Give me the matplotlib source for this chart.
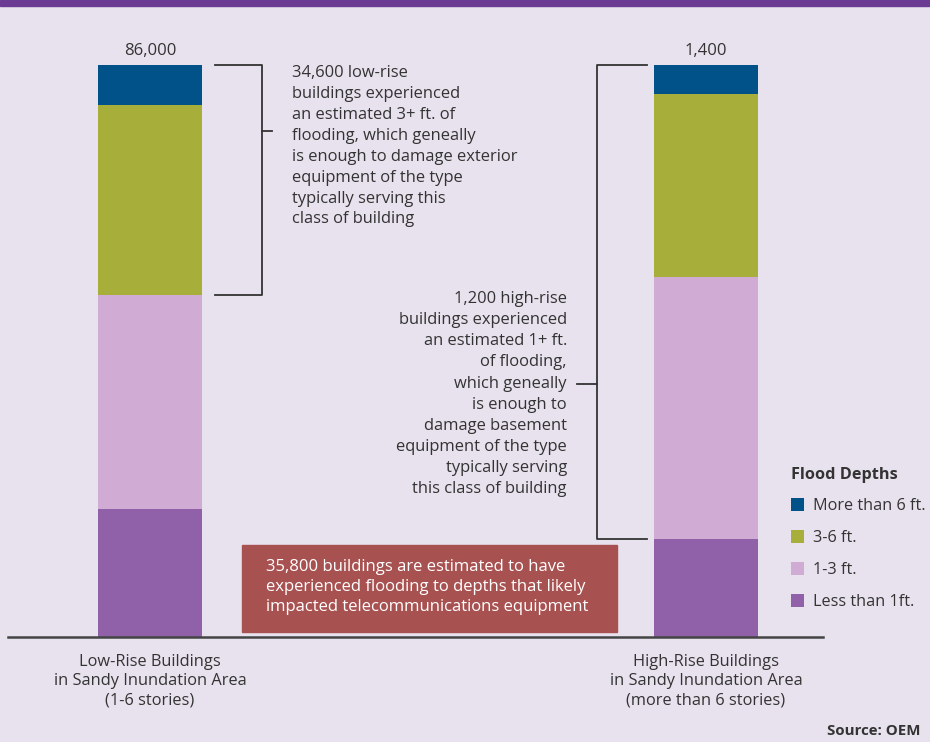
import matplotlib
matplotlib.use("Agg")
import matplotlib.pyplot as plt
import numpy as np

plt.rcParams['font.family'] = ['Open Sans', 'DejaVu Sans']

categories = ["Low-Rise Buildings\nin Sandy Inundation Area\n(1-6 stories)",
              "High-Rise Buildings\nin Sandy Inundation Area\n(more than 6 stories)"]
totals = [86000, 1400]
depth_labels = ["Less than 1ft.", "1-3 ft.", "3-6 ft.", "More than 6 ft."]
# building counts per flood-depth class (bottom to top)
less_1ft = [19200, 240]
ft_1_3 = [32200, 640]
ft_3_6 = [28600, 450]
more_6ft = [6000, 70]
colors = ["#9061A8", "#D0ABD4", "#A8AE3A", "#005288"]

BG = "#E8E2EE"
W, H = 930, 742
fig = plt.figure(figsize=(W / 100, H / 100), dpi=100, facecolor=BG)

def fx(px):
    return px / W

def fy(py):
    return 1 - py / H

# top purple band
fig.patches.append(plt.Rectangle((0, fy(6)), 1, 6 / H, transform=fig.transFigure,
                                 color="#6B3A92", zorder=0))

ax_left, ax_right, ax_bot, ax_top = 8, 823, 637, 65
ax = fig.add_axes([fx(ax_left), fy(ax_bot), fx(ax_right - ax_left), (ax_bot - ax_top) / H])
ax.set_facecolor("none")

c0, c1 = 150, 706
unit = c1 - c0
xmin = -(c0 - ax_left) / unit
xmax = xmin + (ax_right - ax_left) / unit
ax.set_xlim(xmin, xmax)
ax.set_ylim(0, 100)

series = [less_1ft, ft_1_3, ft_3_6, more_6ft]
tot = np.array(totals, dtype=float)
x = np.arange(len(categories))
bw = 104 / unit
bottom = np.zeros(len(categories))
handles = []
cum = []
for vals, col, lab in zip(series, colors, depth_labels):
    pct = np.array(vals) / tot * 100
    b = ax.bar(x, pct, bw, bottom=bottom, color=col, label=lab, linewidth=0)
    handles.append(b)
    bottom = bottom + pct
    cum.append(bottom.copy())

for xi, t in zip(x, totals):
    ax.text(xi, 101.0, f"{t:,}", ha="center", va="bottom", fontsize=12, color="#333333")

for s in ["top", "right", "left"]:
    ax.spines[s].set_visible(False)
ax.spines["bottom"].set_color("#444444")
ax.spines["bottom"].set_linewidth(1.8)
ax.set_yticks([])
ax.set_xticks(x)
ax.set_xticklabels(categories, fontsize=11.8, color="#333333", linespacing=1.3)
ax.tick_params(axis="x", length=0, pad=12)

lc = "#333333"
# low-rise bracket
bx0, bx1, btick = (215 - c0) / unit, (262 - c0) / unit, (272 - c0) / unit
ybot = cum[1][0]
ax.plot([bx0, bx1, bx1, bx0], [100, 100, ybot, ybot], color=lc, lw=1.3, clip_on=False)
ymid = (637 - 131) / 572 * 100
ax.plot([bx1, btick], [ymid, ymid], color=lc, lw=1.3, clip_on=False)
fig.text(fx(292), fy(65),
         "34,600 low-rise\nbuildings experienced\nan estimated 3+ ft. of\nflooding, which geneally\n"
         "is enough to damage exterior\nequipment of the type\ntypically serving this\nclass of building",
         ha="left", va="top", fontsize=11.9, color="#333333", linespacing=1.41)

# high-rise bracket
hx_v, hx_h, hx_t = 1 + (597 - c1) / unit, 1 + (647 - c1) / unit, 1 + (577 - c1) / unit
hbot = cum[0][1]
ax.plot([hx_h, hx_v, hx_v, hx_h], [100, 100, hbot, hbot], color=lc, lw=1.3, clip_on=False)
hmid = (637 - 384) / 572 * 100
ax.plot([hx_t, hx_v], [hmid, hmid], color=lc, lw=1.3, clip_on=False)
fig.text(fx(567), fy(291),
         "1,200 high-rise\nbuildings experienced\nan estimated 1+ ft.\nof flooding,\nwhich geneally\n"
         "is enough to\ndamage basement\nequipment of the type\ntypically serving\nthis class of building",
         ha="right", va="top", fontsize=11.9, color="#333333", linespacing=1.43)

# red callout box
fig.patches.append(plt.Rectangle((fx(242), fy(632)), fx(617 - 242), (632 - 545) / H,
                                 transform=fig.transFigure, color="#A85151", zorder=3))
fig.text(fx(266), fy(587),
         "35,800 buildings are estimated to have\nexperienced flooding to depths that likely\nimpacted telecommunications equipment",
         ha="left", va="center", fontsize=12, color="white", linespacing=1.3, zorder=4)

# legend
leg = fig.legend(handles[::-1], depth_labels[::-1], loc="upper left",
                 bbox_to_anchor=(fx(776), fy(452)), frameon=False, fontsize=11.7,
                 title="Flood Depths", handlelength=0.85, handleheight=0.85,
                 handletextpad=0.55, labelspacing=0.97, alignment="left")
leg.get_title().set_fontweight("bold")
leg.get_title().set_fontsize(11.7)
leg.get_title().set_color("#333333")
for t in leg.get_texts():
    t.set_color("#333333")

fig.text(fx(920), fy(731), "Source: OEM", ha="right", va="center", fontsize=10.8,
         fontweight="bold", color="#333333")

fig.savefig("out.png", dpi=100, facecolor=BG)
